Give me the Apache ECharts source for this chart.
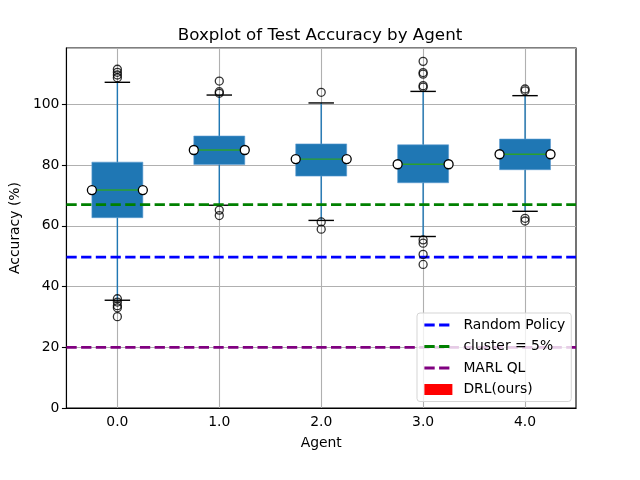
<!DOCTYPE html>
<html>
<head>
    <meta charset="utf-8">
    <title>boxplot</title>
    <script src="https://cdn.jsdelivr.net/npm/echarts@6/dist/echarts.min.js"></script>
</head>
<body style="margin:0;background-color:#fff;">
    <div id="main" style="width:640px;height:480px;"></div>
    <script type="text/javascript">
        // 数据
        var categories = ['0.0', '1.0', '2.0', '3.0', '4.0'];
        var whiskerLow  = [35.5, 66.8, 61.8, 56.5, 64.8];
        var q1          = [62.7, 80.2, 76.4, 74.2, 78.5];
        var medians     = [71.8, 85.0, 82.0, 80.3, 83.6];
        var q3          = [81.0, 89.6, 87.0, 86.7, 88.6];
        var whiskerHigh = [107.3, 103.1, 100.5, 104.3, 102.9];
        var outliers = [
            [111.6, 110.6, 109.7, 108.8, 36.0, 34.9, 33.7, 33.0, 30.1],
            [107.7, 104.2, 103.7, 65.2, 63.4],
            [104.0, 61.3, 58.9],
            [114.2, 110.5, 110.0, 106.2, 105.7, 55.4, 54.3, 50.6, 47.3],
            [105.1, 104.5, 62.5, 61.6]
        ];
        var refNames  = ['Random Policy', 'cluster = 5%', 'MARL QL'];
        var refValues = [49.7, 67, 20];
        var refColors = ['#0000ff', '#008000', '#800080'];
        var yTicks = [0, 20, 40, 60, 80, 100];

        var markerOffset = 0.25;   // 白色圆点在箱体左右边缘

        var boxData = categories.map(function (c, i) {
            return [i, whiskerLow[i], q1[i], medians[i], q3[i], whiskerHigh[i]];
        });
        var outlierData = [];
        outliers.forEach(function (arr, i) {
            arr.forEach(function (v) { outlierData.push([i, v]); });
        });
        var markerData = [];
        medians.forEach(function (m, i) {
            markerData.push([i - markerOffset, m]);
            markerData.push([i + markerOffset, m]);
        });

        function renderBox(params, api) {
            var x = api.value(0);
            var lo = api.coord([x, api.value(1)]);
            var b1 = api.coord([x, api.value(2)]);
            var md = api.coord([x, api.value(3)]);
            var b3 = api.coord([x, api.value(4)]);
            var hi = api.coord([x, api.value(5)]);
            var band = api.size([1, 0])[0];
            var bw = band * 0.5, cw = band * 0.25;
            var cx = md[0];
            return {
                type: 'group',
                children: [
                    {type: 'line', shape: {x1: cx, y1: b1[1], x2: cx, y2: lo[1]}, style: {stroke: '#1f77b4', lineWidth: 1.4}},
                    {type: 'line', shape: {x1: cx, y1: b3[1], x2: cx, y2: hi[1]}, style: {stroke: '#1f77b4', lineWidth: 1.4}},
                    {type: 'line', shape: {x1: cx - cw / 2, y1: lo[1], x2: cx + cw / 2, y2: lo[1]}, style: {stroke: '#000', lineWidth: 1.4}},
                    {type: 'line', shape: {x1: cx - cw / 2, y1: hi[1], x2: cx + cw / 2, y2: hi[1]}, style: {stroke: '#000', lineWidth: 1.4}},
                    {type: 'rect', shape: {x: cx - bw / 2, y: b3[1], width: bw, height: b1[1] - b3[1]},
                        style: {fill: '#1f77b4', stroke: '#5b9bd0', lineWidth: 0.6}},
                    {type: 'line', shape: {x1: cx - bw / 2, y1: md[1], x2: cx + bw / 2, y2: md[1]}, style: {stroke: '#2ca02c', lineWidth: 1.4}}
                ]
            };
        }

        var series = [
            {
                name: 'box',
                type: 'custom',
                xAxisIndex: 0,
                renderItem: renderBox,
                encode: {x: 0, y: [1, 2, 3, 4, 5]},
                data: boxData,
                z: 2
            }
        ];
        refNames.forEach(function (n, i) {
            series.push({
                name: n,
                type: 'line',
                xAxisIndex: 1,
                symbol: 'none',
                lineStyle: {color: refColors[i], width: 2.78, type: [10.3, 4.4]},
                itemStyle: {color: refColors[i]},
                data: [[-0.5, refValues[i]], [4.5, refValues[i]]],
                z: 3,
                silent: true
            });
        });
        series.push({
            name: 'DRL(ours)',
            type: 'bar',
            xAxisIndex: 0,
            itemStyle: {color: '#ff0000'},
            data: []
        });
        series.push({
            name: 'outliers',
            type: 'scatter',
            xAxisIndex: 0,
            symbolSize: 8,
            itemStyle: {color: 'rgba(0,0,0,0)', borderColor: '#000', borderWidth: 1.3},
            data: outlierData,
            z: 4
        });
        series.push({
            name: 'medianMarkers',
            type: 'scatter',
            xAxisIndex: 1,
            symbolSize: 9,
            itemStyle: {color: '#fff', borderColor: '#000', borderWidth: 1.3, opacity: 1},
            data: markerData,
            z: 5
        });

        // 图例里虚线不要圆点
        var noDot = {color: 'rgba(0,0,0,0)', borderColor: 'rgba(0,0,0,0)', borderWidth: 0};
        var legendDash = {width: 2.78, type: [10.3, 4.4]};

        var myChart = echarts.init(document.getElementById('main'));
        var option = {
            backgroundColor: '#fff',
            animation: false,
            textStyle: {fontFamily: 'DejaVu Sans'},
            title: {
                text: 'Boxplot of Test Accuracy by Agent',
                left: 'center',
                top: 27,
                padding: 0,
                textStyle: {color: '#000', fontSize: 16.7, fontWeight: 'normal', fontFamily: 'DejaVu Sans'}
            },
            legend: {
                orient: 'vertical',
                left: 417,
                top: 313,
                padding: [5, 6, 5, 6],
                itemWidth: 28,
                itemHeight: 11,
                itemGap: 7.5,
                backgroundColor: 'rgba(255,255,255,0.8)',
                borderColor: '#d5d5d5',
                borderWidth: 1,
                borderRadius: 3,
                textStyle: {color: '#000', fontSize: 13.9, fontFamily: 'DejaVu Sans', padding: [0, 0, 0, 6]},
                data: [
                    {name: refNames[0], itemStyle: noDot, lineStyle: legendDash},
                    {name: refNames[1], itemStyle: noDot, lineStyle: legendDash},
                    {name: refNames[2], itemStyle: noDot, lineStyle: legendDash},
                    {name: 'DRL(ours)', icon: 'rect'}
                ]
            },
            grid: {
                left: 64, right: 64, top: 48, bottom: 72,
                show: true, borderColor: '#000', borderWidth: 1.1
            },
            xAxis: [
                {
                    type: 'category',
                    data: categories,
                    name: 'Agent',
                    nameLocation: 'middle',
                    nameGap: 28,
                    nameTextStyle: {color: '#000', fontSize: 13.9},
                    axisLine: {lineStyle: {color: '#000', width: 1.1}},
                    axisTick: {alignWithLabel: true, length: 4.5, lineStyle: {color: '#000', width: 1.1}},
                    axisLabel: {color: '#000', fontSize: 13.9, margin: 7},
                    splitLine: {show: true, alignWithLabel: true, lineStyle: {color: '#b0b0b0', width: 1.1}}
                },
                {
                    type: 'value',
                    min: -0.5,
                    max: 4.5,
                    show: false,
                    splitLine: {show: false}
                }
            ],
            yAxis: {
                type: 'value',
                min: 0,
                max: 118.6,
                interval: 20,
                name: 'Accuracy (%)',
                nameLocation: 'middle',
                nameGap: 42,
                nameTextStyle: {color: '#000', fontSize: 13.9},
                axisLine: {show: true, onZero: false, lineStyle: {color: '#000', width: 1.1}},
                axisTick: {show: true, length: 4.5, lineStyle: {color: '#000', width: 1.1}},
                axisLabel: {
                    color: '#000', fontSize: 13.9, margin: 7, showMaxLabel: false,
                    formatter: function (v) { return yTicks.indexOf(v) >= 0 ? String(v) : ''; }
                },
                splitLine: {show: true, lineStyle: {color: '#b0b0b0', width: 1.1}}
            },
            series: series
        };
        myChart.setOption(option);
    </script>
</body>
</html>
